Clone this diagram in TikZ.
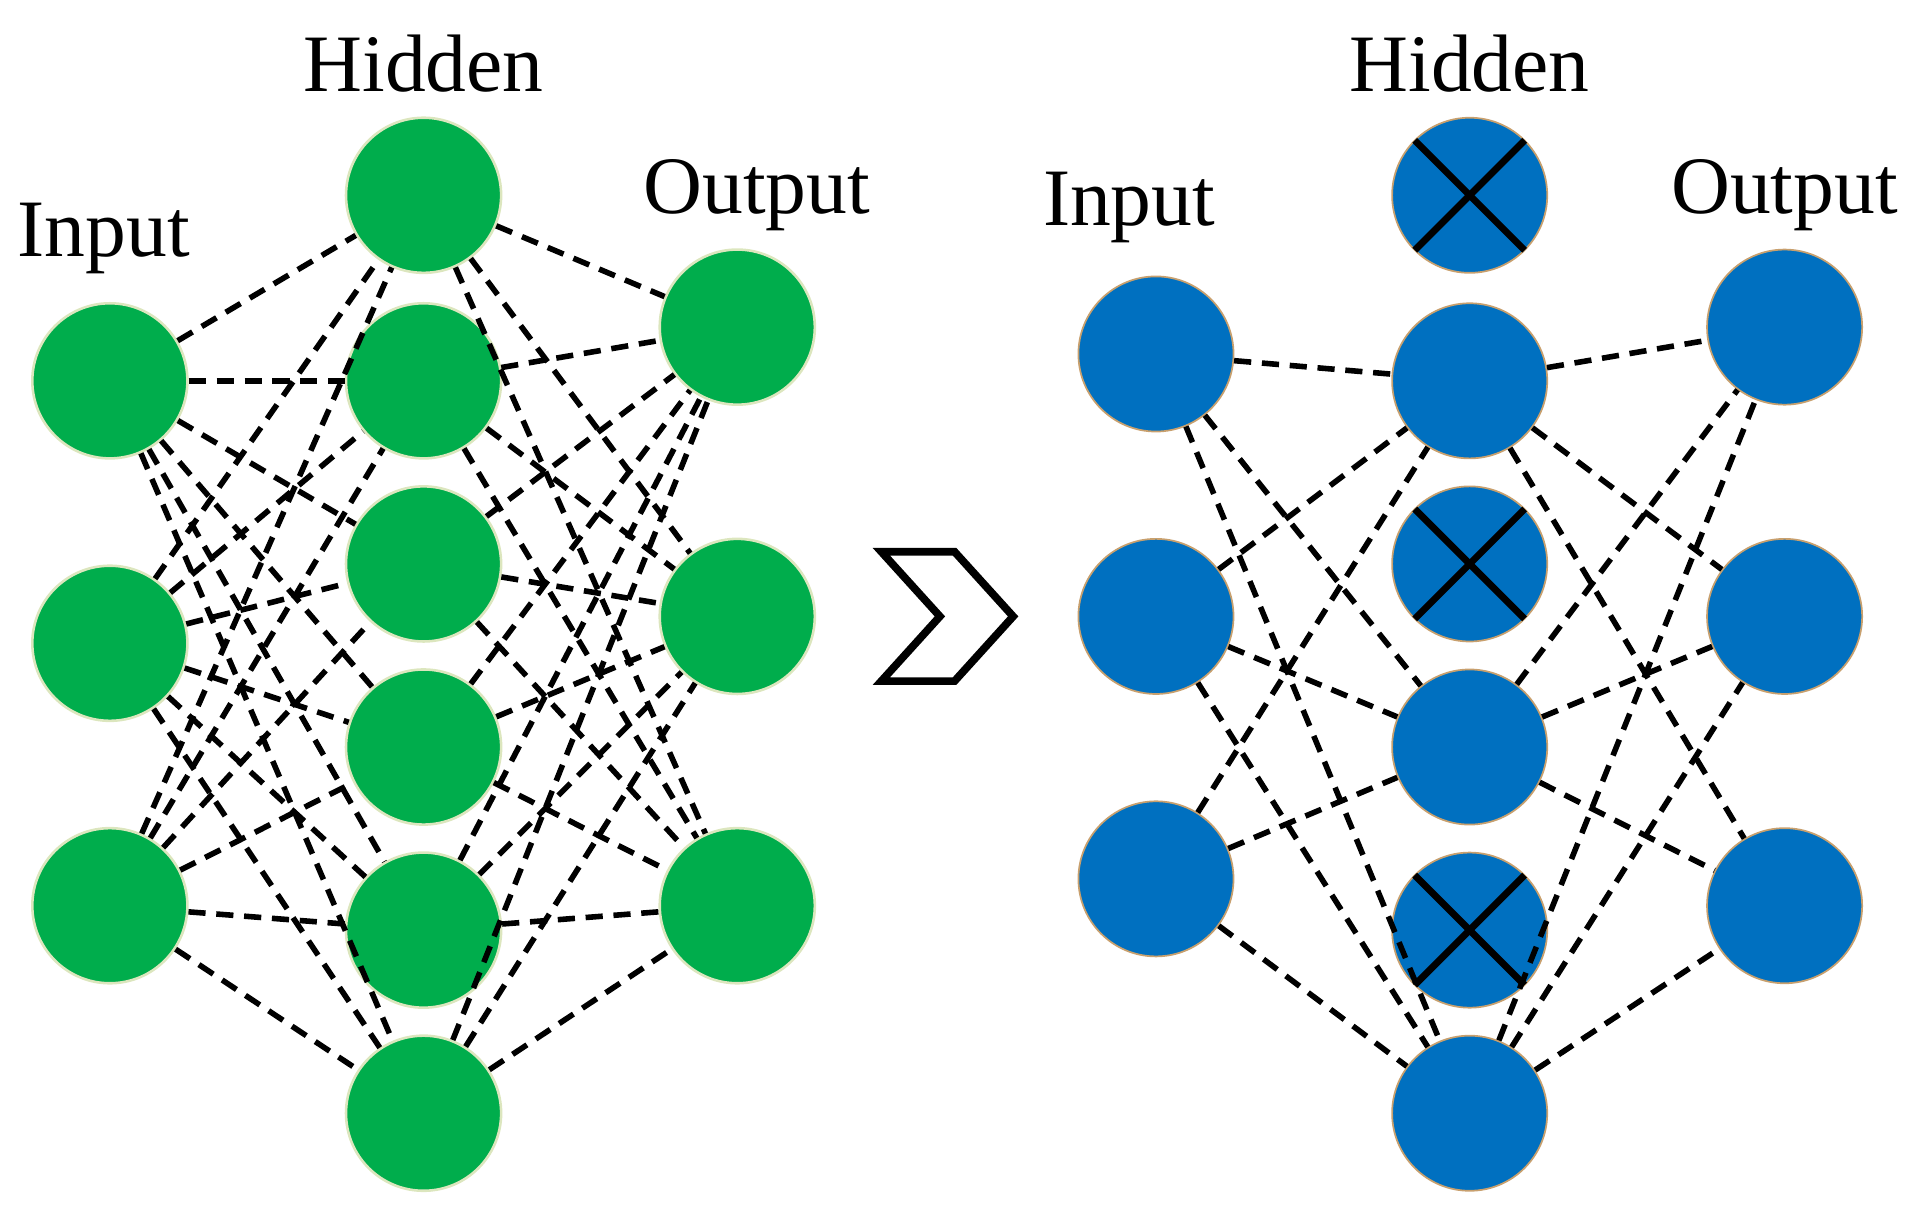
\documentclass[tikz,border=0pt]{standalone}
\usepackage{fontspec}
\setmainfont{Liberation Serif}
\begin{document}
\begin{tikzpicture}[x=0.01cm,y=-0.01cm,
  gn/.style={circle,fill={rgb,255:red,0;green,173;blue,76},draw={rgb,255:red,220;green,230;blue,190},line width=0.6pt,minimum size=1.27cm,inner sep=0pt},
  bn/.style={circle,fill={rgb,255:red,0;green,112;blue,192},draw={rgb,255:red,200;green,160;blue,110},line width=0.4pt,minimum size=1.27cm,inner sep=0pt},
  ed/.style={dashed,line width=1.3pt,dash pattern=on 4pt off 2.5pt},
  lab/.style={font=\fontsize{19}{22}\selectfont},
  cr/.style={line width=1.6pt}]
\useasboundingbox (0,0) rectangle (1568,998);
% labels
\node[lab] (li) at (85,195) {Input};
\node[lab] (lh) at (347,52) {Hidden};
\node[lab] (lo) at (620,160) {Output};
\node[lab] (ri) at (925,170) {Input};
\node[lab] (rh) at (1204,52) {Hidden};
\node[lab] (ro) at (1462,160) {Output};
% left nodes
\foreach \i/\y in {1/312,2/527,3/742} \node[gn] (a\i) at (90,\y) {};
\foreach \i/\y in {1/160,2/312,3/462,4/612,5/762,6/912} \node[gn] (b\i) at (347,\y) {};
\foreach \i/\y in {1/268,2/505,3/742} \node[gn] (c\i) at (604,\y) {};
\foreach \i in {1,2,3} \foreach \j in {1,...,6} {
  \draw[ed] (a\i) -- (b\j);
  \draw[ed] (b\j) -- (c\i);
}
% right nodes
\foreach \i/\y in {1/290,2/505,3/720} \node[bn] (d\i) at (947,\y) {};
\foreach \i/\y in {1/160,2/312,3/462,4/612,5/762,6/912} \node[bn] (e\i) at (1204,\y) {};
\foreach \i/\y in {1/268,2/505,3/742} \node[bn] (f\i) at (1462,\y) {};
\foreach \i in {1,2,3} \foreach \j in {2,4,6} {
  \draw[ed] (d\i) -- (e\j);
  \draw[ed] (e\j) -- (f\i);
}
\foreach \j in {1,3,5} {
  \draw[cr] ([shift={(-45,-45)}]e\j.center) -- ([shift={(45,45)}]e\j.center);
  \draw[cr] ([shift={(45,-45)}]e\j.center) -- ([shift={(-45,45)}]e\j.center);
}
% chevron
\draw[line width=1.8pt,line join=miter] (722,452) -- (782,452) -- (830,505) -- (782,558) -- (722,558) -- (770,505) -- cycle;
\end{tikzpicture}
\end{document}
